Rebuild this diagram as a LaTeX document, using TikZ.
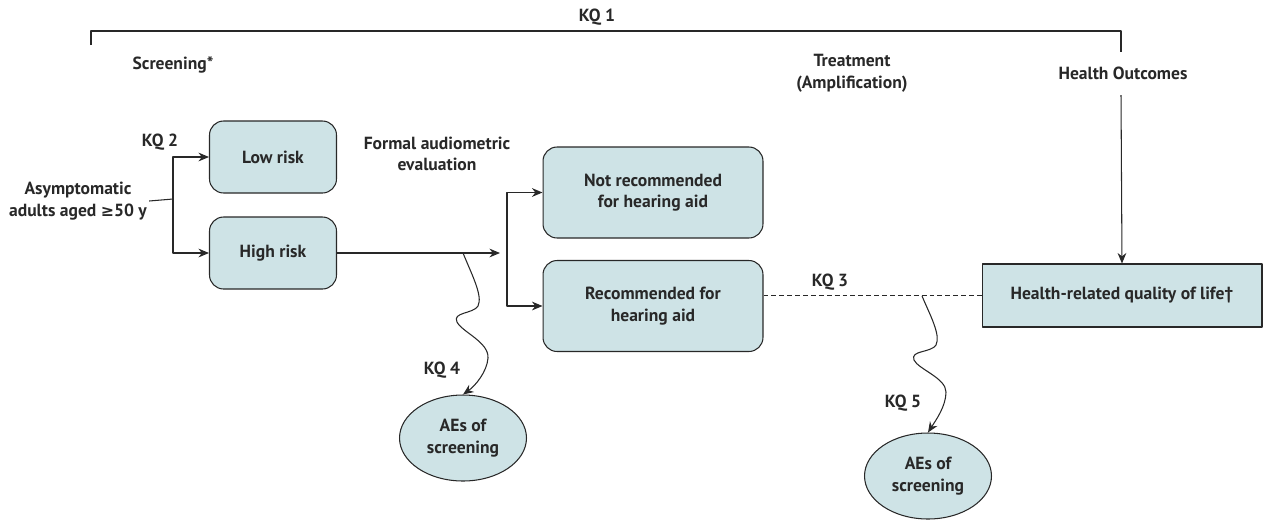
\documentclass[tikz,border=0pt]{standalone}
\usepackage{fontspec}
\setmainfont{PT Sans}
\newfontfamily\symfont{DejaVu Sans}
\usetikzlibrary{arrows.meta,shapes.geometric}
\definecolor{boxfill}{RGB}{206,227,230}
\definecolor{ink}{RGB}{40,40,40}
\begin{document}
\begin{tikzpicture}[x=0.02cm, y=-0.02cm, font=\fontsize{10}{12.3}\selectfont\bfseries, line join=round, >={Stealth[length=6pt,width=5pt]}, color=ink, line width=.6pt,
	rbox/.style={draw, fill=boxfill, rounded corners=8pt, align=center, inner sep=2pt},
	aebox/.style={draw, fill=boxfill, ellipse, align=center, inner sep=0pt, minimum width=2.54cm, minimum height=1.72cm},
	lbl/.style={align=center, inner sep=1pt}]
	\useasboundingbox (0,0) rectangle (1264,522);
	% headings
	\node[lbl] (kqone) at (597,17) {KQ 1};
	\node[lbl] (screen) at (173,65) {Screening*};
	\node[lbl] (treat) at (852,73) {Treatment\\(Amplification)};
	\node[lbl] (outcome) at (1123,73) {Health Outcomes};
	\draw (91,45) -- (91,31) -- (1121,31) -- (1121,52);
	
	% boxes
	\node[lbl] (asym) at (78,201) {Asymptomatic\\adults aged {\symfont\fontsize{9}{12.3}\selectfont ≥}50 y};
	\node[rbox, minimum width=2.54cm, minimum height=1.44cm] (lowrisk) at (273,157) {Low risk};
	\node[rbox, minimum width=2.54cm, minimum height=1.44cm] (highrisk) at (273,253) {High risk};
	\node[rbox, minimum width=4.4cm, minimum height=1.82cm] (notrec) at (653,192.5) {Not recommended\\for hearing aid};
	\node[rbox, minimum width=4.4cm, minimum height=1.82cm] (rec) at (653,306) {Recommended for\\hearing aid};
	\node[draw, fill=boxfill, minimum width=5.6cm, minimum height=1.26cm] (hrql) at (1122,295.5) {Health-related quality of life†};
	\node[aebox] (aeone) at (463,438) {AEs of\\screening};
	\node[aebox] (aetwo) at (928,476) {AEs of\\screening};
	
	\node[lbl] (kqtwo) at (160,142) {KQ 2};
	\node[lbl] (formal) at (437,154) {Formal audiometric\\evaluation};
	\node[lbl] (kqthree) at (830,282) {KQ 3};
	\node[lbl] (kqfour) at (442,370) {KQ 4};
	\node[lbl] (kqfive) at (903,403) {KQ 5};
	
	% connectors
	\coordinate (splitA) at (173,199);
	\coordinate (splitB) at (507,250);
	\draw (asym.east) -- (splitA);
	\draw[<->] (lowrisk.west) -| (splitA) |- (highrisk.west);
	\draw[->, shorten >=4pt] (highrisk.east) -- (highrisk.east -| splitB);
	\draw[<->] (notrec.west) -| (splitB) |- (rec.west);
	\draw[dash pattern=on 2.8pt off 1.7pt] (rec.east |- hrql.west) -- (hrql.west);
	\draw[->] (1121,95) -- (hrql.north);
	
	\coordinate (waveA) at (463,253);
	\coordinate (waveB) at (922,296);
	\draw[->] (waveA) .. controls (472,275) and (483,296) .. (478,306) .. controls (473,314) and (452,312) .. (457,322) .. controls (462,332) and (489,342) .. (488,358) .. controls (487,372) and (475,386) .. (aeone.north);
	\draw[->] (waveB) .. controls (930,315) and (941,335) .. (936,345) .. controls (931,353) and (910,350) .. (914,360) .. controls (918,369) and (946,378) .. (946,392) .. controls (946,406) and (936,420) .. (aetwo.north);
\end{tikzpicture}
\end{document}
